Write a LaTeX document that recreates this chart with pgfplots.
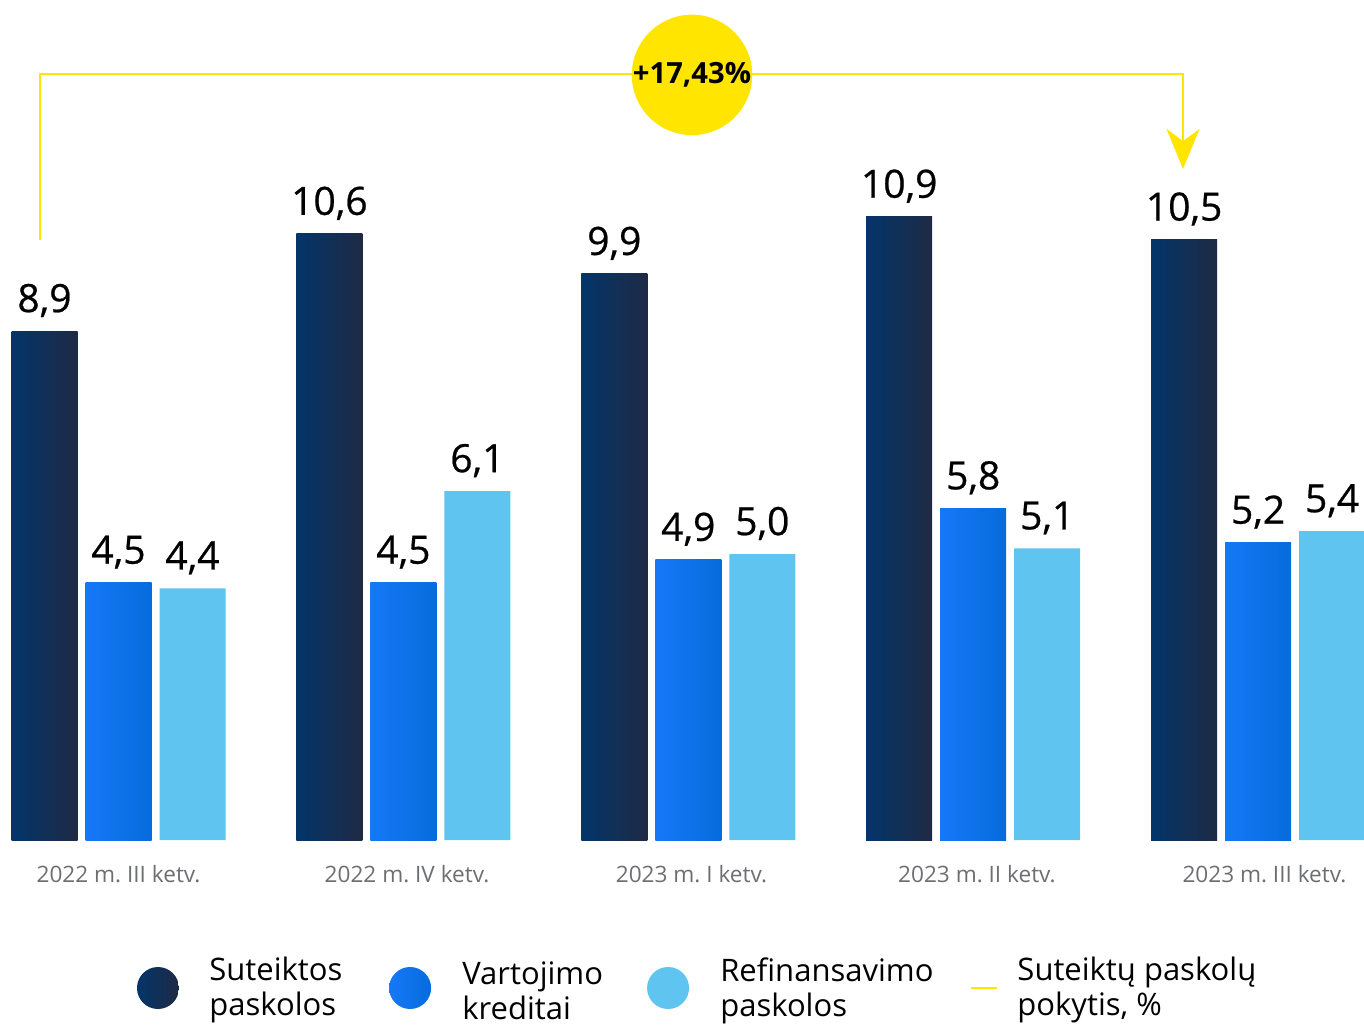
\documentclass[border=0pt]{standalone}
\usepackage{fontspec}
\setmainfont{Open Sans}
\newfontfamily\valfont[FakeBold=0.6]{Open Sans}
\usepackage{pgfplots}
\usepackage{pgfplotstable}
\pgfplotsset{compat=1.18}
\usetikzlibrary{arrows.meta}
\definecolor{darkL}{HTML}{03356A}
\definecolor{darkR}{HTML}{1F2A44}
\definecolor{blueL}{HTML}{1678F7}
\definecolor{blueR}{HTML}{066CDC}
\definecolor{lightc}{HTML}{5FC5F0}
\definecolor{ylw}{HTML}{FFE500}
\definecolor{tickgray}{HTML}{6D6E71}

\pgfplotstableread{
x dark blue light
0 8.9 4.5 4.4
1 10.6 4.5 6.1
2 9.9 4.9 5.0
3 10.9 5.8 5.1
4 10.5 5.2 5.4
}\data

\begin{document}
\frenchspacing
\begin{tikzpicture}
\begin{axis}[
  at={(0,0)}, anchor=south west,
  scale only axis, width=682pt, height=420pt,
  xmin=-0.41594, xmax=4.3717, ymin=0, ymax=14.690,
  axis line style={draw=none},
  ytick=\empty,
  xtick={0,1.0126,2.011,3.013,4.022},
  xticklabels={2022 m. III ketv., 2022 m. IV ketv., 2023 m. I ketv., 2023 m. II ketv., 2023 m. III ketv.},
  major tick length=0pt,
  xticklabel style={font=\fontsize{11.3}{13}\selectfont, text=tickgray, anchor=base, yshift=-21pt},
  ybar, bar width=33pt,
  clip=false,
  nodes near coords,
  every node near coord/.append style={font=\valfont\fontsize{19.5}{22}\selectfont, text=black, anchor=base, yshift=9.5pt},
  /pgf/number format/use comma,
  /pgf/number format/fixed,
  /pgf/number format/fixed zerofill,
  /pgf/number format/precision=1,
  /pgf/number format/assume math mode=true,
]
\pgfplotsinvokeforeach{-0.2:0.2, 0.8:1.2, 1.8:2.2, 2.8:3.2, 3.8:4.2}{
\addplot[draw=none, left color=darkL, right color=darkR, bar shift=-37pt, restrict x to domain=#1] table[x=x,y=dark]{\data};
\addplot[draw=none, left color=blueL, right color=blueR, bar shift=0pt, restrict x to domain=#1] table[x=x,y=blue]{\data};
}
\addplot[draw=none, fill=lightc, bar shift=37pt] table[x=x,y=light]{\data};

\draw[ylw, line width=1.2pt, -{Stealth[length=20pt,width=16.5pt,inset=6pt]}]
  (axis cs:-0.2755,10.493) |- (axis cs:3.7364,13.396) -- (axis cs:3.7364,11.735);
\node[circle, fill=ylw, minimum size=59pt, inner sep=0pt, font=\bfseries\fontsize{14.6}{16}\selectfont]
  at (axis cs:2.013,13.38) {+17,43\%};

\shade[left color=darkL, right color=darkR] (axis cs:0.1386,-2.588) circle[radius=10.5pt];
\shade[left color=blueL, right color=blueR] (axis cs:1.0235,-2.588) circle[radius=10.5pt];
\fill[lightc] (axis cs:1.929,-2.588) circle[radius=10.5pt];
\draw[ylw, line width=1pt] (axis cs:2.992,-2.588) -- (axis cs:3.083,-2.588);

\begin{scope}[every node/.style={anchor=west, align=left, inner sep=0pt, font=\fontsize{15.5}{17.5}\selectfont, yshift=-1.2pt}]
\node at (axis cs:0.3177,-2.588) {Suteiktos\\paskolos};
\node at (axis cs:1.2057,-2.588) {Vartojimo\\kreditai};
\node at (axis cs:2.111,-2.588) {Refinansavimo\\paskolos};
\node at (axis cs:3.154,-2.588) {Suteiktų paskolų\\pokytis, \%};
\end{scope}
\end{axis}
\pgfresetboundingbox
\useasboundingbox (0,-92.5pt) rectangle (682pt,420pt);
\end{tikzpicture}
\end{document}
